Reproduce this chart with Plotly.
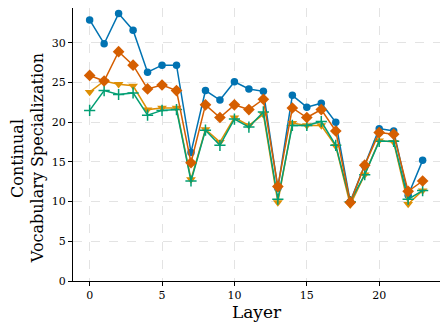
import plotly.graph_objects as go

layers = list(range(24))
blue_vals = [32.9, 29.9, 33.7, 31.6, 26.3, 27.2, 27.2, 16.2, 24.0, 22.8, 25.1, 24.2,
             23.9, 11.7, 23.4, 21.9, 22.4, 20.0, 10.0, 14.5, 19.2, 18.9, 10.8, 15.2]
orange_vals = [25.9, 25.2, 28.9, 27.2, 24.2, 24.7, 24.0, 14.9, 22.2, 20.6, 22.2, 21.6,
               22.9, 11.9, 21.8, 20.6, 21.6, 18.9, 9.9, 14.6, 18.7, 18.5, 11.3, 12.6]
yellow_vals = [23.8, 25.2, 24.8, 24.6, 21.6, 21.8, 21.8, 12.8, 19.1, 17.5, 20.6, 19.6,
               21.0, 9.9, 19.9, 19.6, 19.6, 17.0, 9.6, 13.4, 17.7, 17.5, 9.7, 11.4]
green_vals = [21.5, 24.0, 23.5, 23.7, 20.9, 21.5, 21.6, 12.6, 19.0, 17.1, 20.4, 19.4,
              21.3, 10.3, 19.6, 19.6, 20.1, 17.1, 10.0, 13.4, 17.6, 17.6, 10.3, 11.4]

x_ticks = [0, 5, 10, 15, 20]
y_ticks = [0, 5, 10, 15, 20, 25, 30]
y_title_lines = ["Continual", "Vocabulary Specialization"]

fig = go.Figure()
fig.add_trace(go.Scatter(x=layers, y=blue_vals, mode="lines+markers",
                         line=dict(color="#0173B2", width=1.5),
                         marker=dict(symbol="circle", size=7.5, color="#0173B2")))
fig.add_trace(go.Scatter(x=layers, y=yellow_vals, mode="lines+markers",
                         line=dict(color="#DE8F05", width=1.5),
                         marker=dict(symbol="triangle-down", size=8.5, color="#DE8F05")))
fig.add_trace(go.Scatter(x=layers, y=green_vals, mode="lines+markers",
                         line=dict(color="#029E73", width=1.5),
                         marker=dict(symbol="cross-thin", size=8, color="#029E73",
                                     line=dict(color="#029E73", width=1.5))))
fig.add_trace(go.Scatter(x=layers, y=orange_vals, mode="lines+markers",
                         line=dict(color="#D55E00", width=1.5),
                         marker=dict(symbol="diamond", size=9, color="#D55E00")))

axis_common = dict(showline=True, linecolor="black", linewidth=1, ticks="outside",
                   ticklen=4, tickcolor="black", showgrid=True, gridcolor="#e3e3e3",
                   griddash="dash", gridwidth=1, zeroline=False, automargin=False,
                   tickfont=dict(family="DejaVu Serif", size=11, color="black"))

# y-axis title, two centred lines
for line_text, xpos in zip(y_title_lines, [-0.153, -0.098]):
    fig.add_annotation(text=line_text, xref="paper", yref="paper", x=xpos, y=0.45,
                       xanchor="center", yanchor="middle", textangle=-90, showarrow=False,
                       font=dict(family="DejaVu Serif", size=16, color="black"))

fig.update_layout(
    width=440, height=322,
    margin=dict(l=65, r=8, t=0, b=49),
    plot_bgcolor="white", paper_bgcolor="white",
    showlegend=False,
    font=dict(family="DejaVu Serif", color="black"),
    xaxis=dict(range=[-1.15, 24.2], tickvals=x_ticks,
               title=dict(text="Layer", font=dict(family="DejaVu Serif", size=17), standoff=4),
               **axis_common),
    yaxis=dict(range=[0, 34.4], tickvals=y_ticks, **axis_common),
)

fig.write_html("out.html")
